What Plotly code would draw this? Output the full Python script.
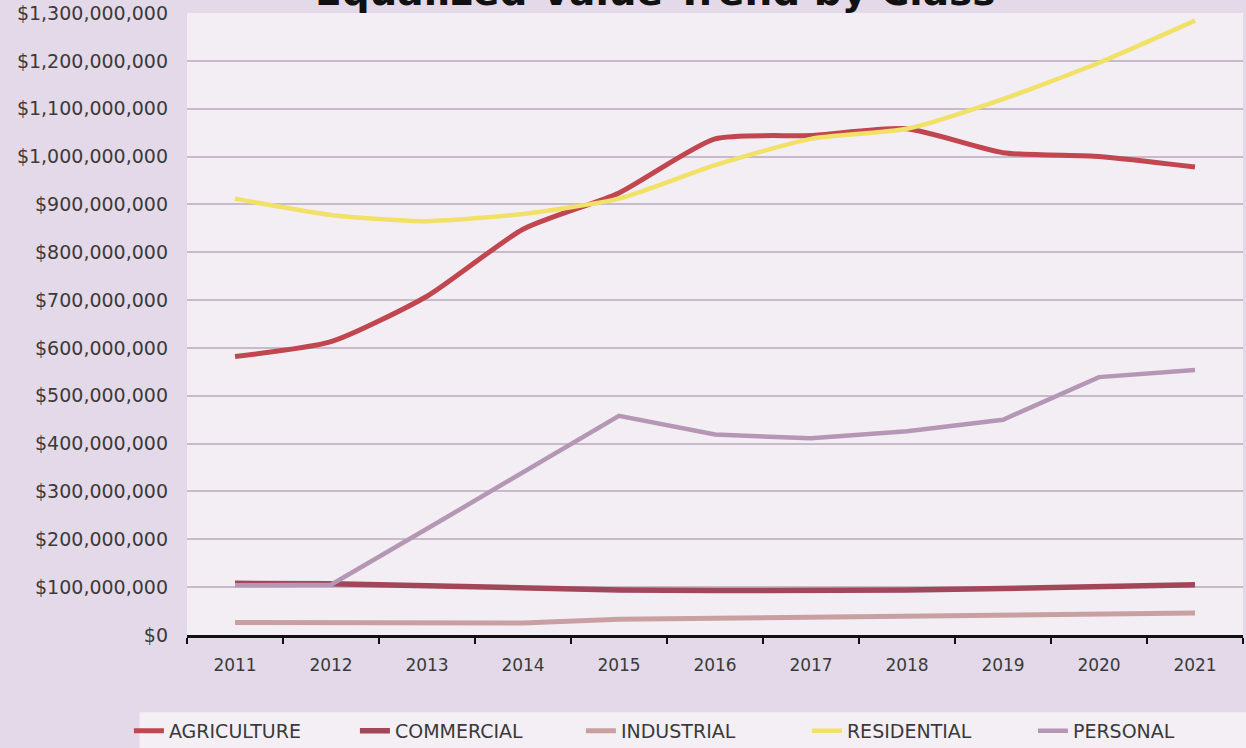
import plotly.graph_objects as go

# Equalized value by property class, 2011-2021 (USD)
years = ["2011", "2012", "2013", "2014", "2015", "2016",
         "2017", "2018", "2019", "2020", "2021"]

agriculture = [582e6, 613e6, 708e6, 848e6, 924e6, 1037e6,
               1044e6, 1058e6, 1008e6, 1000e6, 978e6]
commercial = [108e6, 107e6, 103e6, 98e6, 94e6, 93e6,
              93e6, 94e6, 97e6, 101e6, 105e6]
industrial = [26e6, 26e6, 25e6, 25e6, 33e6, 35e6,
              37e6, 39e6, 41e6, 43e6, 46e6]
residential = [912e6, 878e6, 865e6, 880e6, 912e6, 982e6,
               1037e6, 1058e6, 1120e6, 1196e6, 1284e6]
personal = [104e6, 105e6, 222e6, 340e6, 458e6, 419e6,
            411e6, 426e6, 450e6, 539e6, 554e6]

# y-axis ticks: $0 to $1.3B in $100M steps
y_ticks = [i * 100_000_000 for i in range(14)]
y_tick_text = ["$" + f"{v:,}" for v in y_ticks]

series = [
    ("AGRICULTURE", agriculture, "#c1464f", 5, "spline"),
    ("COMMERCIAL", commercial, "#a2465a", 5.5, "linear"),
    ("INDUSTRIAL", industrial, "#c9a0a2", 5, "linear"),
    ("RESIDENTIAL", residential, "#f1e166", 4.5, "spline"),
    ("PERSONAL", personal, "#b597b5", 4.5, "linear"),
]

fig = go.Figure()
for name, vals, color, width, shape in series:
    fig.add_trace(go.Scatter(
        x=years, y=vals, name=name, mode="lines",
        line=dict(color=color, width=width, shape=shape, smoothing=0.6),
    ))

font_family = "DejaVu Sans"

fig.update_layout(
    width=1246, height=748,
    margin=dict(l=187, r=3, t=13, b=113, autoexpand=False),
    paper_bgcolor="#e4d9e8",
    plot_bgcolor="#f2eef4",
    font=dict(family=font_family, color="#3a3a3a"),
    showlegend=True,
    legend=dict(
        orientation="h",
        xref="paper", yref="paper",
        x=-0.055, xanchor="left",
        y=-0.154, yanchor="middle",
        font=dict(size=19, color="#3a3a3a", family=font_family),
        bgcolor="rgba(0,0,0,0)",
        entrywidth=181, entrywidthmode="pixels",
        traceorder="normal",
    ),
    xaxis=dict(
        type="category",
        range=[-0.5, 10.5],
        showline=True, linecolor="#111111", linewidth=2.5,
        ticks="outside", tickson="boundaries", ticklen=6,
        tickwidth=2, tickcolor="#111111",
        showgrid=False,
        tickfont=dict(size=17, color="#3a3a3a"),
        ticklabelstandoff=13,
    ),
    yaxis=dict(
        range=[0, 1.3e9],
        tickmode="array", tickvals=y_ticks, ticktext=y_tick_text,
        showgrid=True, gridcolor="#c6bacb", gridwidth=2,
        zeroline=False, showline=False,
        tickfont=dict(size=19, color="#3a3a3a"),
        ticklabelstandoff=18,
    ),
    shapes=[
        # light band behind the legend
        dict(type="rect", xref="paper", yref="paper", layer="below",
             x0=-0.045, x1=1.01, y0=-0.19, y1=-0.124,
             fillcolor="#f3eff5", line=dict(width=0)),
    ],
    annotations=[
        dict(text="<b>Equalized Value Trend by Class</b>",
             xref="paper", yref="paper", x=0.443, y=1,
             xanchor="center", yanchor="middle", yshift=22,
             showarrow=False,
             font=dict(size=39, color="#111111", family=font_family)),
    ],
)

fig.write_html("out.html")
